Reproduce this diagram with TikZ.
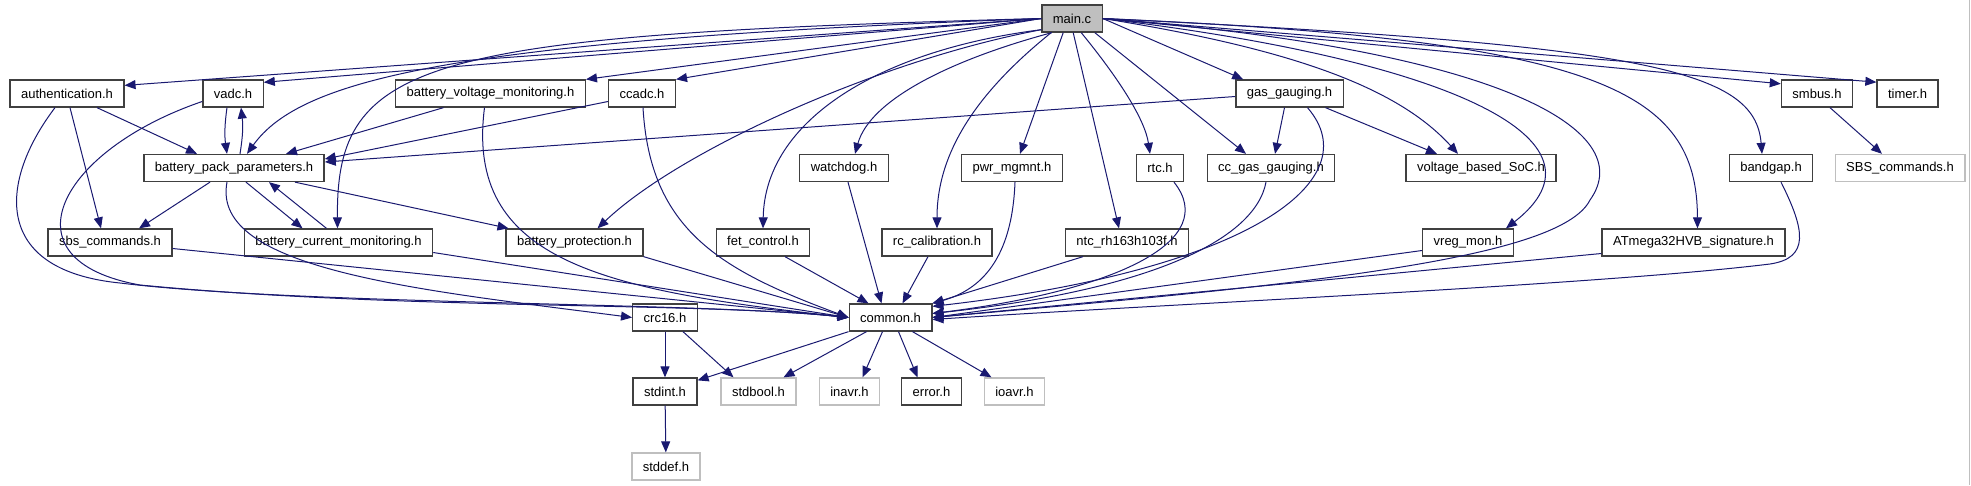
\documentclass[tikz,border=0pt]{standalone}
\usepackage{fontspec}
\setmainfont{Liberation Sans}
\usepackage{tikz}
\usetikzlibrary{
  arrows.meta,
  positioning,
  calc
}
\definecolor{edgeblue}{HTML}{191970}
\definecolor{boxgray}{HTML}{BFBFBF}
\definecolor{boxline}{HTML}{404040}

\begin{document}
\begin{tikzpicture}[
    x=1pt, y=-1pt,
    >={Triangle[length=11pt,width=9pt]},
    file/.style={draw=boxline, line width=1.3pt, fill=white,
      minimum height=27pt, inner xsep=11pt, inner ysep=0pt,
      font=\fontsize{13}{15}\selectfont},
    sysfile/.style={file, draw=boxgray},
    rootfile/.style={file, fill=boxgray},
    dep/.style={->, draw=edgeblue, line width=1pt}
    ]
    
    % moldura
    \useasboundingbox (0,0) rectangle (1971,485);
    \draw[boxgray, line width=1pt] (1969.5,0) -- (1969.5,485);
    
    % arquivos
    \node[rootfile] (main) at (1072,18.5) {main.c};
    
    \node[file] (auth) at (67,93.5) {authentication.h};
    \node[file] (vadc) at (233,93.5) {vadc.h};
    \node[file] (bvm) at (490.5,93.5) {battery\_voltage\_monitoring.h};
    \node[file] (ccadc) at (642,93.5) {ccadc.h};
    \node[file] (gasg) at (1289.5,93.5) {gas\_gauging.h};
    \node[file] (smbus) at (1817,93.5) {smbus.h};
    \node[file] (timer) at (1907.5,93.5) {timer.h};
    
    \node[file] (bpp) at (234,168) {battery\_pack\_parameters.h};
    \node[file] (wdog) at (844,168) {watchdog.h};
    \node[file] (pwr) at (1012,168) {pwr\_mgmnt.h};
    \node[file] (rtc) at (1160,168) {rtc.h};
    \node[file] (ccgg) at (1271,168) {cc\_gas\_gauging.h};
    \node[file] (vbsoc) at (1481,168) {voltage\_based\_SoC.h};
    \node[file] (bgap) at (1771,168) {bandgap.h};
    \node[sysfile] (sbsc) at (1900,168) {SBS\_commands.h};
    
    \node[file] (sbs) at (110,242.5) {sbs\_commands.h};
    \node[file] (bcm) at (338.5,242.5) {battery\_current\_monitoring.h};
    \node[file] (bprot) at (574.5,242.5) {battery\_protection.h};
    \node[file] (fet) at (763,242.5) {fet\_control.h};
    \node[file] (rccal) at (937,242.5) {rc\_calibration.h};
    \node[file] (ntc) at (1127,242.5) {ntc\_rh163h103f.h};
    \node[file] (vreg) at (1468,242.5) {vreg\_mon.h};
    \node[file] (atsig) at (1693.5,242.5) {ATmega32HVB\_signature.h};
    
    \node[file] (crc) at (665,317.5) {crc16.h};
    \node[file] (common) at (890.5,317.5) {common.h};
    
    \node[file] (stdint) at (665,391.5) {stdint.h};
    \node[sysfile] (stdbool) at (758.5,391.5) {stdbool.h};
    \node[sysfile] (inavr) at (849.5,391.5) {inavr.h};
    \node[file] (error) at (931.5,391.5) {error.h};
    \node[sysfile] (ioavr) at (1014.5,391.5) {ioavr.h};
    
    \node[sysfile] (stddef) at (666,466.5) {stddef.h};
    
    % includes de main.c
    \draw[dep] (main.west) -- (auth.8);
    \draw[dep] (main.west) -- (vadc.20);
    \draw[dep] (main.west) .. controls (450,40) and (300,80) .. ([xshift=13pt]bpp.north);
    \draw[dep] (main.west) .. controls (420,35) and (336,60) .. ([xshift=-1pt]bcm.north);
    \draw[dep] (main.west) -- (bvm.north east);
    \draw[dep] (main.west) -- (ccadc.north east);
    \draw[dep] (main.200) .. controls (880,60) and (680,150) .. ([xshift=23pt]bprot.north);
    \draw[dep] (main.200) .. controls (880,50) and (765,120) .. (fet.north);
    \draw[dep] (main.215) .. controls (950,60) and (870,100) .. ([xshift=11pt]wdog.north);
    \draw[dep] ([xshift=10pt]main.south west) .. controls (980,90) and (937,150) .. (rccal.north);
    \draw[dep] ([xshift=22pt]main.south west) -- ([xshift=8pt]pwr.north);
    \draw[dep] ([xshift=32pt]main.south west) -- ([xshift=-8pt]ntc.north);
    \draw[dep] ([xshift=40pt]main.south west) .. controls (1120,80) and (1145,120) .. ([xshift=-10pt]rtc.north);
    \draw[dep] ([xshift=-8pt]main.south east) -- ([xshift=-25pt]ccgg.north);
    \draw[dep] (main.east) -- ([xshift=8pt]gasg.north west);
    \draw[dep] (main.east) .. controls (1300,50) and (1400,90) .. ([xshift=-23pt]vbsoc.north);
    \draw[dep] (main.east) .. controls (1450,60) and (1620,140) .. ([xshift=-8pt]vreg.north east);
    \draw[dep] (main.east) .. controls (1500,50) and (1640,130) .. (1590,200)
      .. controls (1560,260) and (1300,285) .. (common.east);
    \draw[dep] (main.east) .. controls (1600,40) and (1697,90) .. ([xshift=4pt]atsig.north);
    \draw[dep] (main.east) .. controls (1650,45) and (1755,70) .. ([xshift=-9pt]bgap.north);
    \draw[dep] (main.east) -- (smbus.165);
    \draw[dep] (main.east) -- (timer.160);
    
    % demais includes
    \draw[dep] ([xshift=30pt]auth.south) -- ([xshift=-37pt]bpp.north);
    \draw[dep] ([xshift=3pt]auth.south) -- ([xshift=-9pt]sbs.north);
    \draw[dep] ([xshift=-12pt]auth.south) .. controls (0,180) and (-10,270) .. (120,283)
      .. controls (300,305) and (700,302) .. (common.west);
    \draw[dep] ([xshift=-6pt]vadc.south) to[bend right=8] ([xshift=-7pt]bpp.north);
    \draw[dep] ([xshift=6pt]bpp.north) to[bend right=8] ([xshift=8pt]vadc.south);
    \draw[dep] ([yshift=-8pt]vadc.west) .. controls (60,150) and (0,260) .. (140,285)
      .. controls (400,310) and (700,302) .. (common.west);
    \draw[dep] ([xshift=-24pt]bpp.south) -- ([xshift=29pt]sbs.north);
    \draw[dep] ([xshift=12pt]bpp.south) -- ([xshift=-36pt]bcm.north);
    \draw[dep] ([xshift=-12pt]bcm.north) -- ([xshift=35pt]bpp.south);
    \draw[dep] ([xshift=61pt]bpp.south) -- ([xshift=-66pt]bprot.north);
    \draw[dep] ([xshift=-7pt]bpp.south) .. controls (210,270) and (420,290) .. (crc.west);
    \draw[dep] ([yshift=-10pt]bcm.east) -- (common.west);
    \draw[dep] ([xshift=-47pt]bvm.south) -- ([xshift=52pt]bpp.north);
    \draw[dep] ([xshift=-6pt]bvm.south) .. controls (465,260) and (600,290) .. (common.west);
    \draw[dep] ([yshift=-8pt]ccadc.west) -- ([yshift=9pt]bpp.east);
    \draw[dep] ([xshift=1pt]ccadc.south) .. controls (650,230) and (720,270) .. (common.west);
    \draw[dep] ([yshift=-3pt]gasg.west) -- ([yshift=6pt]bpp.east);
    \draw[dep] ([xshift=-5pt]gasg.south) -- ([xshift=4pt]ccgg.north);
    \draw[dep] ([xshift=36pt]gasg.south) -- ([xshift=-44pt]vbsoc.north);
    \draw[dep] ([xshift=18pt]gasg.south) .. controls (1370,180) and (1250,270) .. ([yshift=-3pt]common.north east);
    \draw[dep] ([yshift=-6pt]sbs.east) -- (common.west);
    \draw[dep] (bprot.south east) -- (common.west);
    \draw[dep] ([xshift=22pt]fet.south) -- ([xshift=-22pt]common.north);
    \draw[dep] ([xshift=4pt]wdog.south) -- ([xshift=-9pt]common.north);
    \draw[dep] ([xshift=-9pt]rccal.south) -- ([xshift=12pt]common.north);
    \draw[dep] ([xshift=3pt]pwr.south) .. controls (1012,260) and (980,290) .. (common.north east);
    \draw[dep] ([xshift=-44pt]ntc.south) -- (common.north east);
    \draw[dep] ([xshift=14pt]rtc.south) .. controls (1220,240) and (1120,290) .. ([yshift=4pt]common.east);
    \draw[dep] ([xshift=-5pt]ccgg.south) .. controls (1255,240) and (1150,290) .. ([yshift=4pt]common.east);
    \draw[dep] ([yshift=-8pt]vreg.west) -- (common.east);
    \draw[dep] ([yshift=-11pt]atsig.west) -- (common.east);
    \draw[dep] ([xshift=10pt]bgap.south) .. controls (1805,230) and (1810,258) .. (1770,264)
      .. controls (1600,285) and (1150,305) .. ([yshift=-2pt]common.east);
    \draw[dep] ([xshift=13pt]smbus.south) -- ([xshift=-18pt]sbsc.north);
    
    % headers do sistema
    \draw[dep] (common.south west) -- ([yshift=-3pt]stdint.north east);
    \draw[dep] ([xshift=-24pt]common.south) -- ([xshift=25pt]stdbool.north);
    \draw[dep] ([xshift=-8pt]common.south) -- ([xshift=13pt]inavr.north);
    \draw[dep] ([xshift=8pt]common.south) -- ([xshift=-14pt]error.north);
    \draw[dep] ([xshift=22pt]common.south) -- ([xshift=-23pt]ioavr.north);
    \draw[dep] (crc) -- (stdint);
    \draw[dep] ([xshift=18pt]crc.south) -- ([xshift=-25pt]stdbool.north);
    \draw[dep] (stdint) -- (stddef);
    
    \end{tikzpicture}
\end{document}
